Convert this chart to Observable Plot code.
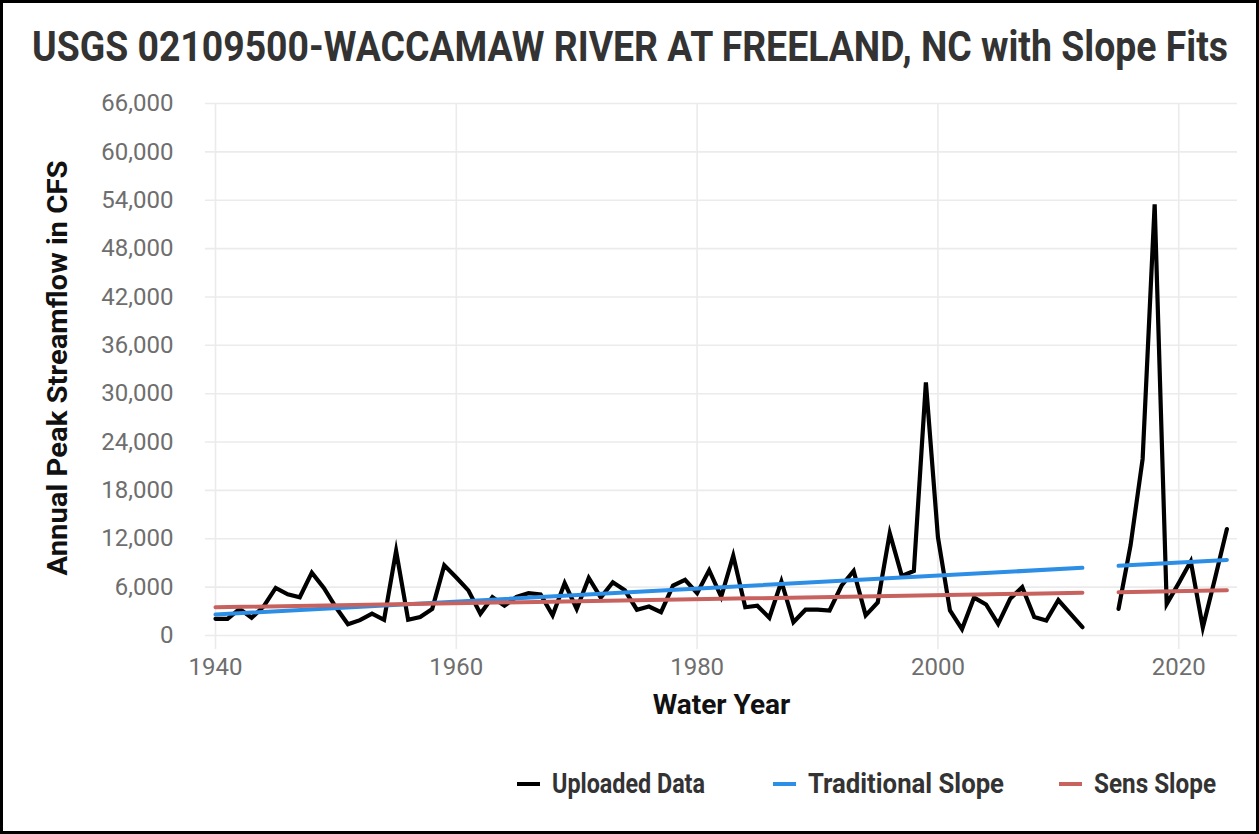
<!DOCTYPE html>
<html>
<head>
<meta charset="utf-8">
<script src="https://cdn.jsdelivr.net/npm/d3@7"></script>
<script src="https://cdn.jsdelivr.net/npm/@observablehq/plot@0.6"></script>
<style>
  html, body { margin: 0; padding: 0; background: #fff; }
  #frame { position: relative; width: 1259px; height: 834px; overflow: hidden; font-family: Roboto, sans-serif; background: #fff; }
  #border { position: absolute; inset: 0; border: 3px solid #000; pointer-events: none; z-index: 5; }
  #title { position: absolute; left: 0; top: 17px; width: 100%; height: 58px; }
  #title span { position: absolute; left: 50%; top: 0; white-space: nowrap; font-weight: 700; font-size: 43px;
                line-height: 58px; color: #333; transform-origin: left center; }
  #ylabel { position: absolute; left: 57px; top: 368px; width: 0; height: 0; }
  #ylabel span { position: absolute; left: 0; top: 0; white-space: nowrap; font-weight: 700; font-size: 28px; color: #111; }
  #chart { position: absolute; left: 0; top: 80px; }
  #legend { position: absolute; top: 768px; left: 0; width: 100%; height: 32px; }
  .item { position: absolute; top: 0; height: 32px; display: flex; align-items: center; white-space: nowrap; }
  .swatch { width: 23px; height: 4px; margin-right: 12px; }
  .label { font-weight: 700; font-size: 27px; color: #333; display: inline-block; transform-origin: left center; }
</style>
</head>
<body>
<div id="frame">
  <div id="title"><span>USGS 02109500-WACCAMAW RIVER AT FREELAND, NC with Slope Fits</span></div>
  <div id="ylabel"><span>Annual Peak Streamflow in CFS</span></div>
  <div id="chart"></div>
  <div id="legend"></div>
  <div id="border"></div>
</div>
<script>
// Annual peak streamflow (cfs) by water year; 2013 and 2014 have no record.
const waterYears = d3.range(1940, 2025);
const peakFlow = [
  2070, 2070, 3300, 2200, 3600, 5900, 5100, 4750, 7800, 5900,   // 1940-1949
  3500, 1400, 1900, 2700, 1950, 10500, 1950, 2300, 3300, 8700,  // 1950-1959
  7200, 5600, 2700, 4750, 3700, 4800, 5250, 5100, 2500, 6500,   // 1960-1969
  3300, 7150, 4700, 6600, 5600, 3200, 3600, 2900, 6200, 6900,   // 1970-1979
  5250, 8100, 4800, 9900, 3500, 3700, 2200, 6700, 1650, 3200,   // 1980-1989
  3200, 3100, 6200, 8000, 2500, 4100, 12700, 7400, 8000, 31400, // 1990-1999
  12200, 3100, 800, 4700, 3850, 1450, 4550, 6000, 2300, 1850,   // 2000-2009
  4400, 2700, 1030, null, null, 3300, 11200, 21900, 53500, 3900, // 2010-2019
  6500, 9200, 1000, 7000, 13200                                  // 2020-2024
];

// Fitted trend lines, drawn as two segments either side of the missing years.
const trendYears = [1940, 2012, 2015, 2024];
const trendSegment = ["a", "a", "b", "b"];
const traditionalSlope = [2600, 8400, 8640, 9370];
const sensSlope = [3500, 5300, 5380, 5600];

const xTicks = [1940, 1960, 1980, 2000, 2020];
const yTicks = [0, 6000, 12000, 18000, 24000, 30000, 36000, 42000, 48000, 54000, 60000, 66000];

const seriesNames = ["Uploaded Data", "Traditional Slope", "Sens Slope"];
const seriesColors = ["#000000", "#2d8ee6", "#c8625f"];

const flow = waterYears.map((year, i) => ({year, value: peakFlow[i]}));
const trend = trendYears.map((year, i) => ({
  year, segment: trendSegment[i], traditional: traditionalSlope[i], sens: sensSlope[i]
}));

const chart = Plot.plot({
  width: 1259,
  height: 660,
  marginLeft: 205,
  marginRight: 22,
  marginTop: 23,
  marginBottom: 105,
  style: {fontFamily: "Roboto, sans-serif", fontSize: "24px", background: "transparent", overflow: "visible"},
  x: {domain: [1939.17, 2024.88]},
  y: {domain: [0, 66000]},
  marks: [
    Plot.gridY(yTicks, {stroke: "#ebebeb", strokeOpacity: 1, strokeWidth: 1.6}),
    Plot.gridX(xTicks, {stroke: "#ebebeb", strokeOpacity: 1, strokeWidth: 1.6, insetBottom: -14}),
    Plot.axisX(xTicks, {tickSize: 0, tickPadding: 22, color: "#6e6e6e", tickFormat: d3.format("d"), label: null}),
    Plot.axisY(yTicks, {tickSize: 0, tickPadding: 32, color: "#6e6e6e", tickFormat: d3.format(",d"), label: null}),
    Plot.line(flow, {x: "year", y: "value", stroke: seriesColors[0], strokeWidth: 4.2, strokeLinejoin: "miter", strokeMiterlimit: 10}),
    Plot.line(trend, {x: "year", y: "traditional", z: "segment", stroke: seriesColors[1], strokeWidth: 4}),
    Plot.line(trend, {x: "year", y: "sens", z: "segment", stroke: seriesColors[2], strokeWidth: 4}),
    Plot.text(["Water Year"], {
      frameAnchor: "bottom", dy: 78, text: d => d,
      fontSize: 28, fontWeight: 700, fill: "#111"
    })
  ]
});
document.getElementById("chart").appendChild(chart);

// Legend below the chart
const legend = document.getElementById("legend");
const legendLeft = [517, 773, 1059];
const legendTextWidth = [153, 196, 122];
seriesNames.forEach((name, i) => {
  const item = document.createElement("div");
  item.className = "item";
  item.style.left = legendLeft[i] + "px";
  item.innerHTML = `<div class="swatch" style="background:${seriesColors[i]}"></div><span class="label">${name}</span>`;
  legend.appendChild(item);
  const label = item.querySelector(".label");
  const w = label.getBoundingClientRect().width;
  label.style.transform = `scaleX(${legendTextWidth[i] / w})`;
});

// Fit the title across the top, centred
const titleSpan = document.querySelector("#title span");
const tw = titleSpan.getBoundingClientRect().width;
const ts = 1196 / tw;
titleSpan.style.transform = `translateX(${-1196 / 2}px) scaleX(${ts})`;

// Vertical axis title, rotated and stretched to its span
const ySpan = document.querySelector("#ylabel span");
const yw = ySpan.getBoundingClientRect().width;
const yh = ySpan.getBoundingClientRect().height;
const ys = 415 / yw;
ySpan.style.transformOrigin = "0 0";
ySpan.style.transform = `translate(${-yh / 2}px, ${415 / 2}px) rotate(-90deg) scaleX(${ys})`;
</script>
</body>
</html>
